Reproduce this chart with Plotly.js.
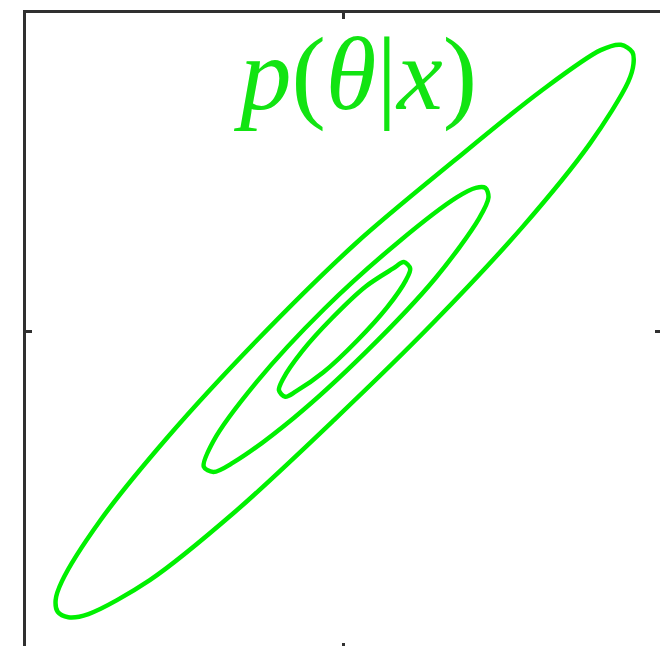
<!DOCTYPE html>
<html>
<head>
<meta charset="utf-8">
<script src="https://cdn.plot.ly/plotly-3.0.1.min.js"></script>
<style>
  html, body { margin: 0; padding: 0; background: #ffffff; overflow: hidden; }
  #plot { width: 662px; height: 650px; }
</style>
</head>
<body>
<div id="plot"></div>
<script>
// Posterior contour levels of p(theta | x), outer to inner (closed loops)
const outerX = [2.73, 2.74, 2.69, 2.33, 1.69, 0.85, -0.09, -1.03, -1.83, -2.41, -2.60, -2.70, -2.72, -2.66, -2.30, -1.66, -0.82, 0.12, 1.05, 1.86, 2.43, 2.62, 2.73];
const outerY = [2.63, 2.52, 2.35, 1.77, 0.98, 0.08, -0.84, -1.71, -2.35, -2.67, -2.70, -2.65, -2.54, -2.36, -1.79, -1.00, -0.09, 0.83, 1.61, 2.26, 2.65, 2.70, 2.63];

const middleX = [1.34, 1.37, 1.28, 0.87, 0.22, -0.47, -1.04, -1.23, -1.32, -1.23, -0.82, -0.18, 0.52, 1.07, 1.25, 1.34];
const middleY = [1.35, 1.26, 1.06, 0.50, -0.19, -0.82, -1.24, -1.33, -1.28, -1.04, -0.48, 0.21, 0.84, 1.26, 1.35, 1.35];

const innerX = [0.57, 0.63, 0.59, 0.41, 0.13, -0.19, -0.45, -0.55, -0.61, -0.57, -0.39, -0.11, 0.21, 0.47, 0.57];
const innerY = [0.65, 0.59, 0.48, 0.22, -0.09, -0.39, -0.57, -0.62, -0.56, -0.45, -0.19, 0.12, 0.42, 0.59, 0.65];

const contourGreen = '#00f000';
const labelGreen = '#12e412';
const frameColor = '#303030';

function loop(xs, ys) {
  return {
    x: xs, y: ys, type: 'scatter', mode: 'lines',
    line: { color: contourGreen, width: 4.5, shape: 'spline', smoothing: 0.9 },
    hoverinfo: 'skip', showlegend: false
  };
}

const traces = [loop(outerX, outerY), loop(middleX, middleY), loop(innerX, innerY)];

const axisStyle = {
  range: [-3, 3],
  tickvals: [0],
  ticks: 'inside',
  ticklen: 6,
  tickwidth: 3,
  tickcolor: frameColor,
  showticklabels: false,
  showline: true,
  linewidth: 3,
  linecolor: frameColor,
  mirror: 'ticks',
  showgrid: false,
  zeroline: false,
  fixedrange: true
};

const layout = {
  width: 662,
  height: 650,
  margin: { l: 26, r: 1, t: 13, b: 1 },
  paper_bgcolor: '#ffffff',
  plot_bgcolor: '#ffffff',
  xaxis: Object.assign({}, axisStyle),
  yaxis: Object.assign({}, axisStyle),
  annotations: [{
    x: 0.11, y: 2.42, xref: 'x', yref: 'y',
    text: '<i>p</i>(<i>θ</i>|<i>x</i>)',
    showarrow: false,
    xanchor: 'center', yanchor: 'middle',
    font: { family: 'Liberation Serif, DejaVu Serif, serif', size: 103, color: labelGreen }
  }]
};

Plotly.newPlot('plot', traces, layout, { staticPlot: true, displayModeBar: false });
</script>
</body>
</html>
